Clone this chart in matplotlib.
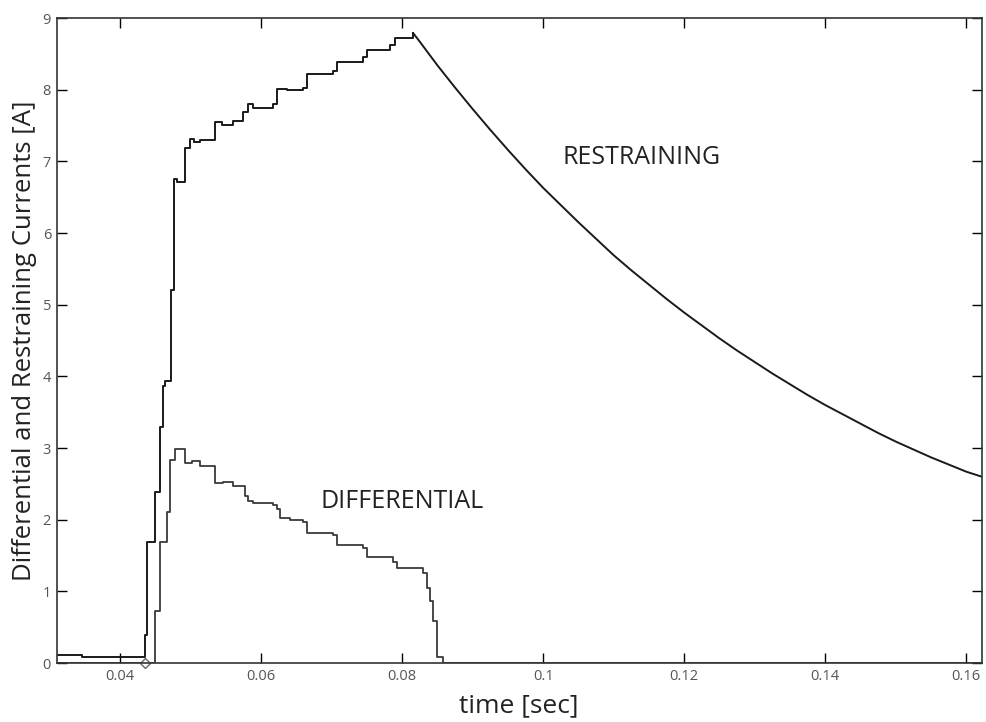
import numpy as np
import matplotlib
matplotlib.use("Agg")
from matplotlib import pyplot as plt

# restraining current - staircase rise
t_rest_rise = [0.031, 0.0346, 0.04355, 0.04387, 0.04496, 0.04567, 0.04614, 0.0463,
               0.04723, 0.0477, 0.0480, 0.04926, 0.04993, 0.0505, 0.05135, 0.05348,
               0.05443, 0.05603, 0.05745, 0.05816, 0.05887, 0.0617, 0.06227, 0.06369,
               0.06596, 0.06652, 0.07021, 0.07078, 0.07447, 0.07504, 0.0783, 0.07901,
               0.08156]
i_rest_rise = [0.11, 0.09, 0.39, 1.69, 2.39, 3.30, 3.86, 3.94,
               5.21, 6.75, 6.71, 7.18, 7.31, 7.27, 7.30, 7.55,
               7.51, 7.57, 7.69, 7.80, 7.74, 7.80, 8.01, 7.99,
               8.03, 8.22, 8.26, 8.39, 8.45, 8.56, 8.62, 8.72,
               8.79]

# restraining current - decay after the peak
t_rest_decay = [0.08156, 0.0825, 0.085, 0.0875, 0.090, 0.0925, 0.095, 0.0975, 0.100,
                0.1025, 0.105, 0.1075, 0.110, 0.1125, 0.115, 0.1175, 0.120, 0.1225,
                0.125, 0.1275, 0.130, 0.1325, 0.135, 0.1375, 0.140, 0.1425, 0.145,
                0.1475, 0.150, 0.1525, 0.155, 0.1575, 0.160, 0.1622]
i_rest_decay = [8.79, 8.67, 8.34, 8.03, 7.73, 7.44, 7.16, 6.89, 6.63,
                6.39, 6.15, 5.92, 5.69, 5.48, 5.28, 5.08, 4.89, 4.71,
                4.53, 4.36, 4.20, 4.04, 3.89, 3.74, 3.60, 3.47, 3.34,
                3.21, 3.09, 2.98, 2.87, 2.77, 2.67, 2.60]

# differential current
t_diff = [0.031, 0.04496, 0.04567, 0.04662, 0.04709, 0.0478, 0.04922, 0.05021,
          0.05135, 0.05348, 0.05461, 0.05603, 0.05773, 0.05816, 0.05887, 0.0617,
          0.06227, 0.0627, 0.06411, 0.06596, 0.06652, 0.07021, 0.07078, 0.07447,
          0.07504, 0.07872, 0.07929, 0.08298, 0.08355, 0.08397, 0.0844, 0.08496,
          0.08582, 0.1622]
i_diff = [0.0, 0.72, 1.69, 2.11, 2.83, 2.98, 2.79, 2.82,
          2.75, 2.51, 2.53, 2.47, 2.33, 2.26, 2.23, 2.21,
          2.15, 2.03, 2.00, 1.97, 1.81, 1.79, 1.65, 1.60,
          1.48, 1.41, 1.32, 1.25, 1.04, 0.86, 0.58, 0.09,
          0.0, 0.0]

x_ticks = [0.04, 0.06, 0.08, 0.1, 0.12, 0.14, 0.16]
x_ticklabels = ["0.04", "0.06", "0.08", "0.1", "0.12", "0.14", "0.16"]
y_ticks = [0, 1, 2, 3, 4, 5, 6, 7, 8, 9]

plt.rcParams['font.family'] = ['Open Sans', 'DejaVu Sans']

fig = plt.figure(figsize=(9.87, 7.22), dpi=100)
ax = fig.add_axes([0.0574, 0.0817, 0.9373, 0.8933])

ax.plot(t_rest_rise, i_rest_rise, drawstyle='steps-post', color='#1a1a1a', lw=1.4)
ax.plot(t_rest_decay, i_rest_decay, color='#1a1a1a', lw=1.4)
ax.plot(t_diff, i_diff, drawstyle='steps-post', color='#3a3a3a', lw=1.3)
ax.plot([0.0435], [0.0], marker='D', ms=5, mfc='white', mec='#666666', mew=1, clip_on=False)

ax.text(0.1027, 7.06, "RESTRAINING", fontsize=18, color='#222222', va='center')
ax.text(0.06837, 2.25, "DIFFERENTIAL", fontsize=18, color='#222222', va='center')

ax.set_xlim(0.031, 0.1622)
ax.set_ylim(0, 9)
ax.set_xticks(x_ticks)
ax.set_xticklabels(x_ticklabels)
ax.set_yticks(y_ticks)
ax.tick_params(direction='in', length=7, width=1, top=True, right=True,
               labelsize=10.5, labelcolor='#555555', pad=4)
for s in ax.spines.values():
    s.set_color('#333333')
    s.set_linewidth(1.2)

ax.set_xlabel("time [sec]", fontsize=19, color='#222222', labelpad=7)
ax.set_ylabel("Differential and Restraining Currents [A]", fontsize=18.5, color='#222222', labelpad=4)

fig.savefig("out.png", dpi=100)
